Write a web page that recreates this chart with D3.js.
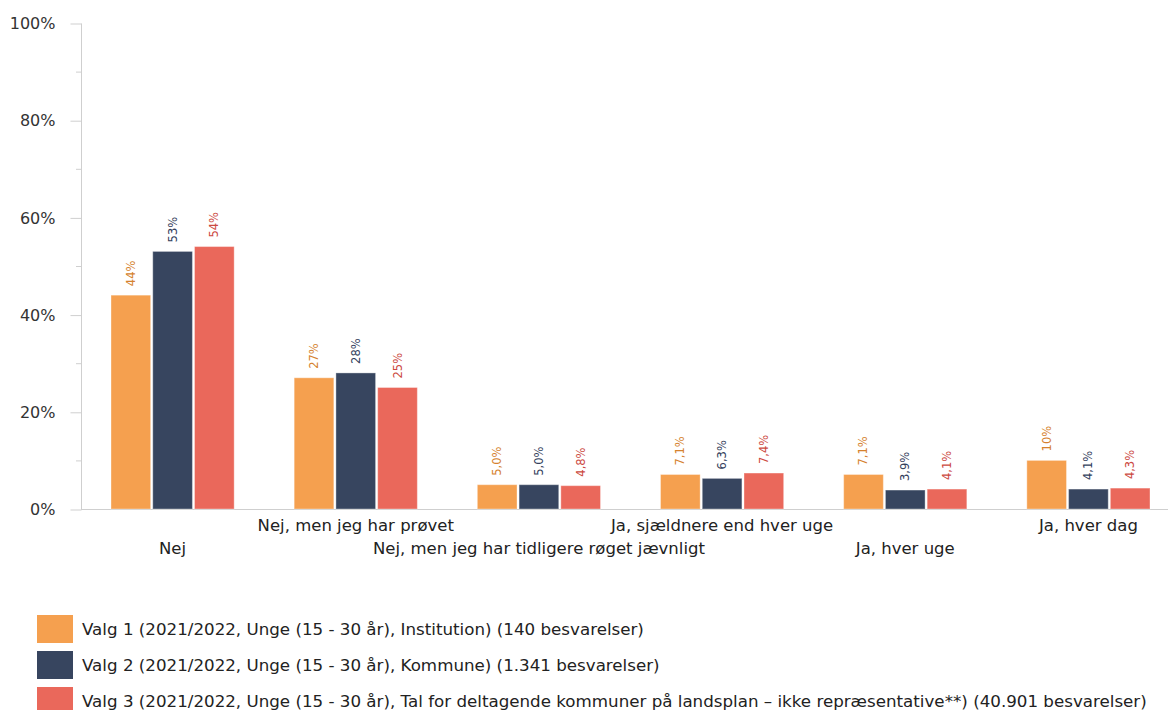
<!DOCTYPE html>
<html>
<head>
<meta charset="utf-8">
<script src="https://cdn.jsdelivr.net/npm/d3@7"></script>
<style>
  body { margin: 0; background: #fff; }
  svg { display: block; font-family: "DejaVu Sans", Verdana, sans-serif; }
</style>
</head>
<body>
<svg id="chart" width="1168" height="710"></svg>
<script>
// Answer categories (x axis)
const categories = [
  "Nej",
  "Nej, men jeg har prøvet",
  "Nej, men jeg har tidligere røget jævnligt",
  "Ja, sjældnere end hver uge",
  "Ja, hver uge",
  "Ja, hver dag"
];
// Share of respondents (%) per series
const valg1 = [44, 27, 5.0, 7.1, 7.1, 10];
const valg2 = [53, 28, 5.0, 6.3, 3.9, 4.1];
const valg3 = [54, 25, 4.8, 7.4, 4.1, 4.3];
const seriesNames = [
  "Valg 1 (2021/2022, Unge (15 - 30 år), Institution) (140 besvarelser)",
  "Valg 2 (2021/2022, Unge (15 - 30 år), Kommune) (1.341 besvarelser)",
  "Valg 3 (2021/2022, Unge (15 - 30 år), Tal for deltagende kommuner på landsplan – ikke repræsentative**) (40.901 besvarelser)"
];
const yTicks = [0, 20, 40, 60, 80, 100];

const colors = ["#F5A04F", "#37455F", "#EA685B"];
const labelColors = ["#D5822E", "#33415C", "#CC4A3F"];

const svg = d3.select("#chart");
const x0 = 81, x1 = 1180, yTop = 23, yBot = 509;

const x = d3.scaleBand().domain(d3.range(categories.length)).range([x0, x1]).paddingInner(0).paddingOuter(0);
const inner = d3.scaleBand().domain([0, 1, 2]).range([30, x.bandwidth() - 30]).paddingInner(0.05);
const y = d3.scaleLinear().domain([0, 100]).range([yBot, yTop]);

// minor ticks every 10%
svg.append("g").selectAll("line").data(d3.range(10, 100, 20)).join("line")
  .attr("x1", x0 - 5).attr("x2", x0).attr("y1", d => y(d) + 0.5).attr("y2", d => y(d) + 0.5)
  .attr("stroke", "#cfcfcf");

// y axis
const yAxis = d3.axisLeft(y).tickValues(yTicks).tickFormat(d => d + "%").tickSize(11).tickPadding(15);
const ga = svg.append("g").attr("transform", `translate(${x0 + 0.5},0.5)`).call(yAxis);
ga.select(".domain").attr("stroke", "#cfcfcf").attr("d", `M0,${yTop}V${yBot}`);
ga.selectAll(".tick line").attr("stroke", "#cfcfcf");
ga.selectAll(".tick text").attr("fill", "#333").attr("font-size", 16)
  .attr("font-family", "DejaVu Sans, Verdana, sans-serif");

// baseline
svg.append("line").attr("x1", x0).attr("x2", 1168).attr("y1", yBot + 0.5).attr("y2", yBot + 0.5)
  .attr("stroke", "#cfcfcf");

const series = [valg1, valg2, valg3];
const fmt = v => (v >= 10 ? d3.format(".0f")(v) : d3.format(".1f")(v).replace(".", ",")) + "%";

series.forEach((vals, s) => {
  const g = svg.append("g");
  g.selectAll("rect").data(vals).join("rect")
    .attr("x", (d, i) => x(i) + inner(s))
    .attr("width", inner.bandwidth())
    .attr("y", d => y(d))
    .attr("height", d => yBot - y(d))
    .attr("fill", colors[s])
    .attr("stroke", "#fff").attr("stroke-opacity", 0.35);
  g.selectAll("text").data(vals).join("text")
    .attr("transform", (d, i) => `translate(${x(i) + inner(s) + inner.bandwidth() / 2 + 4},${y(d) - 9}) rotate(-90)`)
    .attr("fill", labelColors[s])
    .attr("font-size", 11.5)
    .text(d => fmt(d));
});

// category labels, staggered on two rows
svg.append("g").selectAll("text").data(categories).join("text")
  .attr("x", (d, i) => x(i) + x.bandwidth() / 2)
  .attr("y", (d, i) => i % 2 === 0 ? 554 : 531)
  .attr("text-anchor", "middle")
  .attr("fill", "#222")
  .attr("font-size", 16.5)
  .text(d => d);

// legend
const lg = svg.append("g");
seriesNames.forEach((name, s) => {
  const yy = 615 + s * 36;
  lg.append("rect").attr("x", 37).attr("y", yy).attr("width", 36).attr("height", 28)
    .attr("fill", colors[s]);
  lg.append("text").attr("x", 82).attr("y", yy + 20).attr("fill", "#222")
    .attr("font-size", 16.7).text(name);
});
</script>
</body>
</html>
